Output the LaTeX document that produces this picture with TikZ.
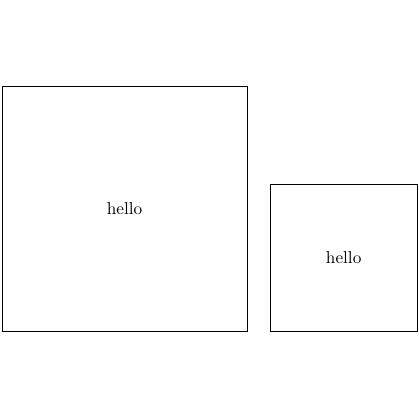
\documentclass[tikz,border=0pt]{standalone}
\usetikzlibrary{positioning}

\begin{document}
\begin{tikzpicture}[
    bigbox/.style = {rectangle, draw=black, minimum size=5cm, text centered},
    smallbox/.style = {rectangle, draw=black, minimum size=3cm, text centered}
]

% Bounding box with margins
\useasboundingbox (-2.54, -4.31) rectangle (5.99, 4.25);

% Boxes
\node (bigsquare) [bigbox] at (0, 0) {hello};
\node (smallsquare) [smallbox, anchor=south west] at ([xshift=0.45cm] bigsquare.south east) {hello};

\end{tikzpicture}
\end{document}
